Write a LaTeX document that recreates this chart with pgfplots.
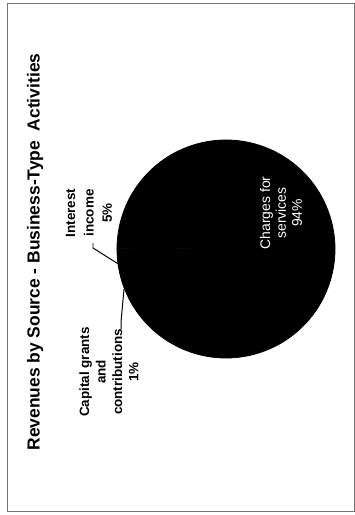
\documentclass[border=0pt]{standalone}
\usepackage{fontspec}
\setmainfont{Liberation Sans}
\usepackage{pgfplots}
\usepackage{pgfplotstable}
\pgfplotsset{compat=1.18}

\pgfplotstableread{
label value
Interest 5
Capital 1
Charges 94
}\piedata

\begin{document}
\begin{tikzpicture}
\begin{axis}[
  scale only axis, width=355bp, height=515bp,
  xmin=0, xmax=355, ymin=0, ymax=515, y dir=reverse,
  hide axis, clip=false,
]
\path (axis cs:0,0) (axis cs:355,515);
\draw[black!55, line width=0.9pt] (axis cs:7,3) rectangle (axis cs:354.5,511.5);
% pie wedges
\def\cumangle{179.6}
\pgfplotsforeachungrouped \i in {0,1,2}{%
  \pgfplotstablegetelem{\i}{value}\of\piedata
  \pgfmathsetmacro{\endangle}{\cumangle+3.6*\pgfplotsretval}%
  \edef\temp{\noexpand\filldraw[black, line width=0.8pt, line join=round] (axis cs:226,249) -- ++(\cumangle:109bp) arc[start angle=\cumangle, end angle=\endangle, radius=109bp] -- cycle;}%
  \temp
  \global\let\cumangle\endangle
}
% title
\node[rotate=90, font=\fontsize{17.5}{20}\selectfont\bfseries] at (axis cs:35,252) {Revenues by Source - Business-Type\ \ Activities};
% labels
\node[rotate=90, align=center, font=\fontsize{13.5}{18.5}\selectfont\bfseries] at (axis cs:89,213) {Interest\\income\\5\%};
\node[rotate=90, align=center, font=\fontsize{13.5}{16.5}\selectfont\bfseries] at (axis cs:109,372) {Capital grants\\and\\contributions\\1\%};
\node[rotate=90, align=center, text=white, font=\fontsize{14}{16}\selectfont] at (axis cs:281,213) {Charges for\\services\\94\%};
% leader lines
\draw[black, line width=1pt] (axis cs:93,243) -- (axis cs:93,248) -- (axis cs:120,265);
\draw[black, line width=1pt] (axis cs:121,329) -- (axis cs:121,322) -- (axis cs:124,289);
\end{axis}
\end{tikzpicture}
\end{document}
